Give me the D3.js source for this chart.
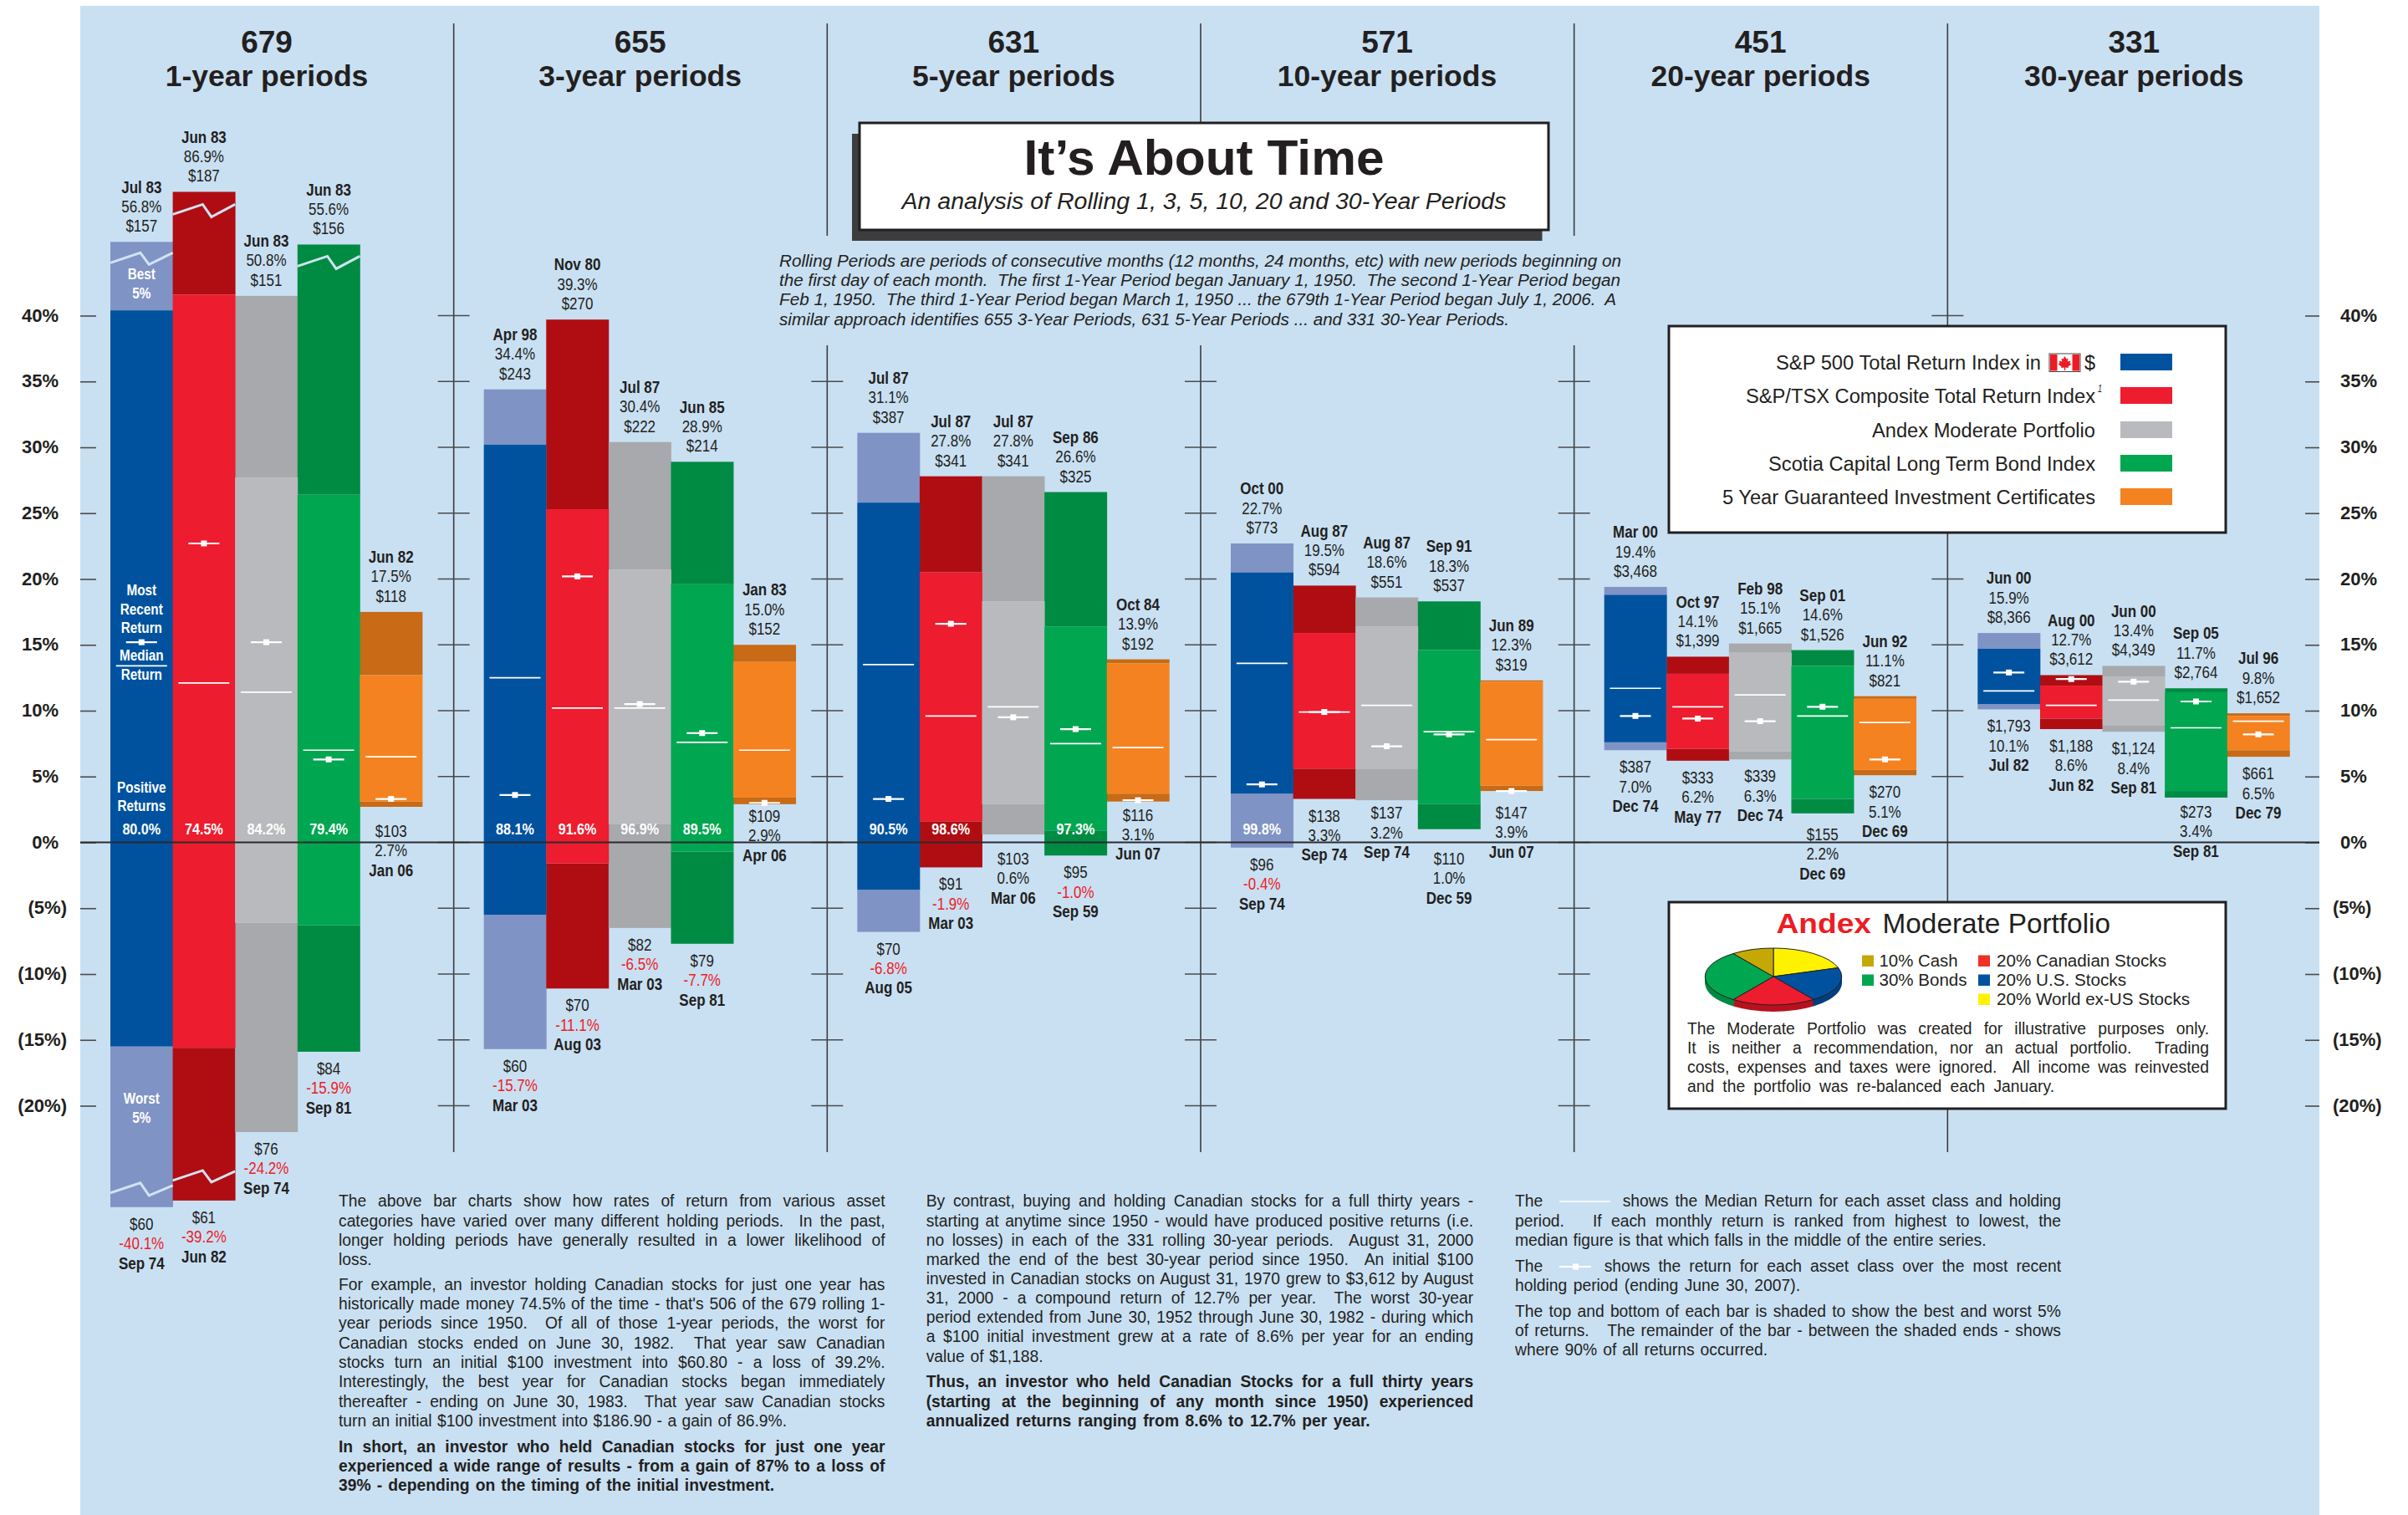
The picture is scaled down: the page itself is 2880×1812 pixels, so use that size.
<!DOCTYPE html>
<html>
<head>
<meta charset="utf-8">
<title>It's About Time</title>
<script src="https://cdn.jsdelivr.net/npm/d3@7"></script>
<style>
  html, body { margin: 0; padding: 0; background: #fff; }
  svg { display: block; }
  text { font-family: "Liberation Sans", Arial, sans-serif; fill: #231f20; white-space: pre; }
</style>
</head>
<body>
<div id="chart"></div>
<script>
const assets = ["S&P 500", "S&P/TSX", "Andex Moderate", "Scotia Bond", "5 Year GIC"];
const periodCounts = ["679", "655", "631", "571", "451", "331"];
const periodNames = ["1-year periods", "3-year periods", "5-year periods", "10-year periods", "20-year periods", "30-year periods"];
const percentTicks = [40, 35, 30, 25, 20, 15, 10, 5, 0, -5, -10, -15, -20];

// one row per holding period, one column per asset
const best = [
  [56.8, 86.9, 50.8, 55.6, 17.5],
  [34.4, 39.3, 30.4, 28.9, 15.0],
  [31.1, 27.8, 27.8, 26.6, 13.9],
  [22.7, 19.5, 18.6, 18.3, 12.3],
  [19.4, 14.1, 15.1, 14.6, 11.1],
  [15.9, 12.7, 13.4, 11.7, 9.8]
];
const upper5 = [
  [40.4, 41.6, 27.7, 26.4, 12.7],
  [30.2, 25.3, 20.7, 19.6, 13.7],
  [25.8, 20.5, 18.3, 16.4, 13.6],
  [20.5, 15.9, 16.4, 14.6, 12.2],
  [18.8, 12.8, 14.4, 13.4, 10.9],
  [14.7, 11.9, 12.6, 11.4, 9.6]
];
const medians = [
  [13.4, 12.1, 11.4, 7.0, 6.5],
  [12.5, 10.2, 10.2, 7.6, 7.0],
  [13.5, 9.6, 10.3, 7.5, 7.2],
  [13.6, 9.9, 10.4, 8.4, 7.8],
  [11.7, 10.3, 11.2, 9.6, 9.1],
  [11.5, 10.4, 10.8, 8.7, 9.2]
];
const recent = [
  [15.2, 22.7, 15.2, 6.3, 3.3],
  [3.6, 20.2, 10.5, 8.3, 3.0],
  [3.3, 16.6, 9.5, 8.6, 3.2],
  [4.4, 9.9, 7.3, 8.2, 3.9],
  [9.6, 9.4, 9.2, 10.3, 6.3],
  [12.9, 12.4, 12.2, 10.7, 8.2]
];
const lower5 = [
  [-15.5, -15.6, -6.1, -6.3, 3.1],
  [-5.5, -1.6, 1.4, -0.7, 3.4],
  [-3.6, 1.6, 2.9, 0.9, 3.7],
  [3.7, 5.6, 5.6, 2.9, 4.3],
  [7.6, 7.1, 6.9, 3.3, 5.5],
  [10.5, 9.4, 8.9, 3.9, 7.0]
];
const worst = [
  [-40.1, -39.2, -24.2, -15.9, 2.7],
  [-15.7, -11.1, -6.5, -7.7, 2.9],
  [-6.8, -1.9, 0.6, -1.0, 3.1],
  [-0.4, 3.3, 3.2, 1.0, 3.9],
  [7.0, 6.2, 6.3, 2.2, 5.1],
  [10.1, 8.6, 8.4, 3.4, 6.5]
];
// the 1-year bars are cut short on the page: height the bar ends are drawn at
const bestDrawn1Y = [45.6, 49.4, 41.5, 45.4, 17.5];
const worstDrawn1Y = [-27.7, -27.2, -22.0, -15.9, 2.7];
// the 3-year TSX bar is drawn a little taller than its label says
const bestDrawn3YTsx = 39.7;

const bestDates = [
  ["Jul 83", "Jun 83", "Jun 83", "Jun 83", "Jun 82"],
  ["Apr 98", "Nov 80", "Jul 87", "Jun 85", "Jan 83"],
  ["Jul 87", "Jul 87", "Jul 87", "Sep 86", "Oct 84"],
  ["Oct 00", "Aug 87", "Aug 87", "Sep 91", "Jun 89"],
  ["Mar 00", "Oct 97", "Feb 98", "Sep 01", "Jun 92"],
  ["Jun 00", "Aug 00", "Jun 00", "Sep 05", "Jul 96"]
];
const bestDollars = [
  ["$157", "$187", "$151", "$156", "$118"],
  ["$243", "$270", "$222", "$214", "$152"],
  ["$387", "$341", "$341", "$325", "$192"],
  ["$773", "$594", "$551", "$537", "$319"],
  ["$3,468", "$1,399", "$1,665", "$1,526", "$821"],
  ["$8,366", "$3,612", "$4,349", "$2,764", "$1,652"]
];
const worstDates = [
  ["Sep 74", "Jun 82", "Sep 74", "Sep 81", "Jan 06"],
  ["Mar 03", "Aug 03", "Mar 03", "Sep 81", "Apr 06"],
  ["Aug 05", "Mar 03", "Mar 06", "Sep 59", "Jun 07"],
  ["Sep 74", "Sep 74", "Sep 74", "Dec 59", "Jun 07"],
  ["Dec 74", "May 77", "Dec 74", "Dec 69", "Dec 69"],
  ["Jul 82", "Jun 82", "Sep 81", "Sep 81", "Dec 79"]
];
const worstDollars = [
  ["$60", "$61", "$76", "$84", "$103"],
  ["$60", "$70", "$82", "$79", "$109"],
  ["$70", "$91", "$103", "$95", "$116"],
  ["$96", "$138", "$137", "$110", "$147"],
  ["$387", "$333", "$339", "$155", "$270"],
  ["$1,793", "$1,188", "$1,124", "$273", "$661"]
];
const positiveShare = [
  ["80.0%", "74.5%", "84.2%", "79.4%", ""],
  ["88.1%", "91.6%", "96.9%", "89.5%", ""],
  ["90.5%", "98.6%", "", "97.3%", ""],
  ["99.8%", "", "", "", ""],
  ["", "", "", "", ""],
  ["", "", "", "", ""]
];

const legendLabels = [
  "S&P 500 Total Return Index in",
  "S&P/TSX Composite Total Return Index",
  "Andex Moderate Portfolio",
  "Scotia Capital Long Term Bond Index",
  "5 Year Guaranteed Investment Certificates"
];
const mixLabels = ["20% World ex-US Stocks", "20% U.S. Stocks", "20% Canadian Stocks", "30% Bonds", "10% Cash"];
const mixWeights = [20, 20, 20, 30, 10];

const introLines = [
  "Rolling Periods are periods of consecutive months (12 months, 24 months, etc) with new periods beginning on",
  "the first day of each month.  The first 1-Year Period began January 1, 1950.  The second 1-Year Period began",
  "Feb 1, 1950.  The third 1-Year Period began March 1, 1950 ... the 679th 1-Year Period began July 1, 2006.  A",
  "similar approach identifies 655 3-Year Periods, 631 5-Year Periods ... and 331 30-Year Periods."
];
const column1 = [
  "The above bar charts show how rates of return from various asset",
  "categories have varied over many different holding periods.  In the past,",
  "longer holding periods have generally resulted in a lower likelihood of",
  "loss.",
  "For example, an investor holding Canadian stocks for just one year has",
  "historically made money 74.5% of the time - that's 506 of the 679 rolling 1-",
  "year periods since 1950.  Of all of those 1-year periods, the worst for",
  "Canadian stocks ended on June 30, 1982.  That year saw Canadian",
  "stocks turn an initial $100 investment into $60.80 - a loss of 39.2%.",
  "Interestingly, the best year for Canadian stocks began immediately",
  "thereafter - ending on June 30, 1983.  That year saw Canadian stocks",
  "turn an initial $100 investment into $186.90 - a gain of 86.9%.",
  "In short, an investor who held Canadian stocks for just one year",
  "experienced a wide range of results - from a gain of 87% to a loss of",
  "39% - depending on the timing of the initial investment."
];
const column2 = [
  "By contrast, buying and holding Canadian stocks for a full thirty years -",
  "starting at anytime since 1950 - would have produced positive returns (i.e.",
  "no losses) in each of the 331 rolling 30-year periods.  August 31, 2000",
  "marked the end of the best 30-year period since 1950.  An initial $100",
  "invested in Canadian stocks on August 31, 1970 grew to $3,612 by August",
  "31, 2000 - a compound return of 12.7% per year.  The worst 30-year",
  "period extended from June 30, 1952 through June 30, 1982 - during which",
  "a $100 initial investment grew at a rate of 8.6% per year for an ending",
  "value of $1,188.",
  "Thus, an investor who held Canadian Stocks for a full thirty years",
  "(starting at the beginning of any month since 1950) experienced",
  "annualized returns ranging from 8.6% to 12.7% per year."
];
const column3 = [
  "period.   If each monthly return is ranked from highest to lowest, the",
  "median figure is that which falls in the middle of the entire series.",
  "holding period (ending June 30, 2007).",
  "The top and bottom of each bar is shaded to show the best and worst 5%",
  "of returns.   The remainder of the bar - between the shaded ends - shows",
  "where 90% of all returns occurred."
];
const moderateNote = [
  "The Moderate Portfolio was created for illustrative purposes only.",
  "It is neither a recommendation, nor an actual portfolio.  Trading",
  "costs, expenses and taxes were ignored.  All income was reinvested",
  "and the portfolio was re-balanced each January."
];

const mainColor = ["#00529f", "#ed1c2e", "#b9babd", "#00a650", "#f58220"];
const shadeColor = ["#8093c5", "#b00d13", "#a7a9ac", "#008b43", "#c86a16"];
const ink = "#231f20";

const width = 2880, height = 1812;
const panelLeft = 96, panelRight = 2774;
const bodySize = 19.3;

const svg = d3.select("#chart").append("svg").attr("width", width).attr("height", height);
svg.append("rect").attr("x", panelLeft).attr("y", 7)
  .attr("width", panelRight - panelLeft).attr("height", height - 7).attr("fill", "#c9e0f3");

const y = d3.scaleLinear().domain([0, 40]).range([1007.5, 377.5]);
const xPeriod = d3.scaleBand().domain(d3.range(6)).range([panelLeft, 2776]);
const xAsset = d3.scaleBand().domain(d3.range(5)).range([0, 373]);
const barLeft = (p) => xPeriod(p) + 36;
const barX = (d) => barLeft(d.p) + xAsset(d.a);
const barMid = (d) => barX(d) + xAsset.bandwidth() / 2;

// squeeze or stretch the spaces between words so a line fills its measure
function justify(sel, w) {
  sel.each(function () {
    const words = this.textContent.split(" ").length - 1;
    const natural = this.getComputedTextLength();
    if (words > 0) d3.select(this).attr("word-spacing", (w - natural) / words);
  });
  return sel;
}
function fit(sel, w) {
  return sel.attr("textLength", w).attr("lengthAdjust", "spacingAndGlyphs");
}
// the small labels on the bars are set in a condensed cut
function condense(sel, ratio = 0.85) {
  return fit(sel, sel.node().getComputedTextLength() * ratio);
}
function addText(parent, str, px, py, size, opts = {}) {
  return parent.append("text")
    .attr("x", px).attr("y", py).attr("font-size", size)
    .attr("font-weight", opts.bold ? "bold" : null)
    .attr("font-style", opts.italic ? "italic" : null)
    .attr("text-anchor", opts.anchor || "start")
    .style("fill", opts.fill || ink)
    .text(str);
}

// dividers and their ticks, some of them are broken by the boxes on top
const dividers = [
  { p: 1, spans: [[28, 1378]], ticks: percentTicks },
  { p: 2, spans: [[28, 282], [413, 1378]], ticks: percentTicks.slice(1) },
  { p: 3, spans: [[28, 146], [413, 1378]], ticks: percentTicks.slice(1) },
  { p: 4, spans: [[28, 282], [413, 1378]], ticks: percentTicks.slice(1) },
  { p: 5, spans: [[28, 390], [637, 1079], [1326, 1378]], ticks: [40, 20, 15, 10, 5] }
];
const gridG = svg.append("g");
dividers.forEach((div) => {
  const x0 = xPeriod(div.p);
  gridG.selectAll(null).data(div.spans).join("line")
    .attr("x1", x0).attr("x2", x0)
    .attr("y1", (d) => d[0]).attr("y2", (d) => d[1])
    .attr("stroke", "#3c3c3e").attr("stroke-width", 1.6);
  gridG.selectAll(null).data(div.ticks).join("line")
    .attr("x1", x0 - 19).attr("x2", x0 + 19)
    .attr("y1", (d) => y(d)).attr("y2", (d) => y(d))
    .attr("stroke", "#4a4a4c").attr("stroke-width", 1.6);
});

// axes on both sides
const pctFormat = (d) => (d < 0 ? `(${-d}%)` : `${d}%`);
const leftAxis = svg.append("g").attr("transform", `translate(${panelLeft},0)`)
  .call(d3.axisLeft(y).tickValues(percentTicks).tickSizeInner(-19).tickSizeOuter(0).tickPadding(26).tickFormat(pctFormat));
const rightAxis = svg.append("g").attr("transform", `translate(${panelRight},0)`)
  .call(d3.axisRight(y).tickValues(percentTicks).tickSizeInner(-17).tickSizeOuter(0).tickPadding(25).tickFormat(pctFormat));
[leftAxis, rightAxis].forEach((axis) => {
  axis.select(".domain").remove();
  axis.selectAll("line").attr("stroke", "#4a4a4c").attr("stroke-width", 1.6);
  axis.selectAll("text").attr("font-size", 22).attr("font-weight", "bold").attr("dy", "0.3em").style("fill", ink);
});
leftAxis.selectAll("text").attr("x", (d) => (d < 0 ? -16 : -26));
rightAxis.selectAll("text").attr("x", (d) => (d < 0 ? 16 : 25));

// headings
periodCounts.forEach((count, p) => {
  const cx = barLeft(p) + 187;
  addText(svg, count, cx, 63, 37, { bold: true, anchor: "middle" });
  addText(svg, periodNames[p], cx, 103, 35.5, { bold: true, anchor: "middle" });
});

const rows = d3.range(6).flatMap((p) => d3.range(5).map((a) => ({
  p, a,
  best: best[p][a],
  upper: upper5[p][a],
  median: medians[p][a],
  recent: recent[p][a],
  lower: lower5[p][a],
  worst: worst[p][a],
  topDrawn: p === 0 ? bestDrawn1Y[a] : (p === 1 && a === 1 ? bestDrawn3YTsx : best[p][a]),
  bottomDrawn: p === 0 ? worstDrawn1Y[a] : worst[p][a]
})));

const barsG = svg.append("g");
const segment = (cls, from, to, color) => barsG.selectAll(`.${cls}`).data(rows).join("rect")
  .attr("class", cls)
  .attr("x", barX)
  .attr("width", xAsset.bandwidth() + 0.4)
  .attr("y", (d) => y(from(d)))
  .attr("height", (d) => y(to(d)) - y(from(d)))
  .attr("fill", color);
segment("bar-top", (d) => d.topDrawn, (d) => d.upper, (d) => shadeColor[d.a]);
segment("bar-bottom", (d) => d.lower, (d) => d.bottomDrawn, (d) => shadeColor[d.a]);
segment("bar-mid", (d) => d.upper, (d) => d.lower, (d) => mainColor[d.a]);

// zigzag marks on the bars that are cut short
const zigX = [0, 0.48, 0.62, 1];
const zigLine = d3.line();
const cutMarks = [
  { a: 0, edge: "top", drop: [25, 13, 27, 13] },
  { a: 1, edge: "top", drop: [27, 15, 30, 15] },
  { a: 3, edge: "top", drop: [26, 14, 29, 14] },
  { a: 0, edge: "bottom", drop: [-17, -29, -14, -26] },
  { a: 1, edge: "bottom", drop: [-24, -36, -22, -35] }
];
barsG.selectAll(".cut").data(cutMarks).join("path")
  .attr("class", "cut")
  .attr("fill", "none")
  .attr("stroke", "#cfe3f2")
  .attr("stroke-width", 3)
  .attr("d", (m) => {
    const row = rows.find((r) => r.p === 0 && r.a === m.a);
    const edge = y(m.edge === "top" ? row.topDrawn : row.bottomDrawn);
    return zigLine(zigX.map((f, i) => [barX(row) + f * xAsset.bandwidth(), edge + m.drop[i]]));
  });

// zero line runs over the bars
svg.append("line").attr("x1", panelLeft).attr("x2", panelRight)
  .attr("y1", y(0)).attr("y2", y(0)).attr("stroke", "#2b2b2d").attr("stroke-width", 2);

// median and most recent markers
const markG = svg.append("g");
markG.selectAll(".median").data(rows).join("line")
  .attr("class", "median")
  .attr("x1", (d) => barMid(d) - 30.5).attr("x2", (d) => barMid(d) + 30.5)
  .attr("y1", (d) => y(d.median)).attr("y2", (d) => y(d.median))
  .attr("stroke", "#fff").attr("stroke-width", 1.7);
markG.selectAll(".recent").data(rows).join("line")
  .attr("class", "recent")
  .attr("x1", (d) => barMid(d) - 18.5).attr("x2", (d) => barMid(d) + 18.5)
  .attr("y1", (d) => y(d.recent)).attr("y2", (d) => y(d.recent))
  .attr("stroke", "#fff").attr("stroke-width", 2.2);
markG.selectAll(".recent-dot").data(rows).join("rect")
  .attr("class", "recent-dot")
  .attr("x", (d) => barMid(d) - 3.5).attr("y", (d) => y(d.recent) - 3.5)
  .attr("width", 7).attr("height", 7)
  .attr("fill", "#fff");

// value labels above and below each bar
const labelSize = 20, labelStep = 23.4;
// lower labels mostly sit 27px under the bar, these were moved by hand around the zero line
const lowerLabelGap = { "0-4": 36, "1-4": 21, "2-2": 36, "2-4": 23, "3-2": 22, "3-3": 42, "3-4": 33, "4-3": 32, "5-3": 24 };
const labelsG = svg.append("g");
rows.forEach((d) => {
  const cx = barMid(d);
  const topBase = y(d.topDrawn) - 12;
  condense(addText(labelsG, bestDates[d.p][d.a], cx, topBase - 2 * labelStep, labelSize, { bold: true, anchor: "middle" }));
  condense(addText(labelsG, `${d.best.toFixed(1)}%`, cx, topBase - labelStep, labelSize, { anchor: "middle" }));
  condense(addText(labelsG, bestDollars[d.p][d.a], cx, topBase, labelSize, { anchor: "middle" }));

  const lowBase = y(d.bottomDrawn) + (lowerLabelGap[`${d.p}-${d.a}`] || 27);
  condense(addText(labelsG, worstDollars[d.p][d.a], cx, lowBase, labelSize, { anchor: "middle" }));
  condense(addText(labelsG, `${d.worst.toFixed(1)}%`, cx, lowBase + labelStep, labelSize, {
    anchor: "middle", fill: d.worst < 0 ? "#ed1c24" : ink
  }));
  condense(addText(labelsG, worstDates[d.p][d.a], cx, lowBase + 2 * labelStep, labelSize, { bold: true, anchor: "middle" }));

  if (positiveShare[d.p][d.a]) {
    condense(addText(labelsG, positiveShare[d.p][d.a], cx, 998, 19, { bold: true, anchor: "middle", fill: "#fff" }));
  }
});

// notes written on the first blue bar
const firstMid = barMid(rows[0]);
[["Best", 334], ["5%", 357], ["Most", 712], ["Recent", 735], ["Return", 757], ["Median", 790], ["Return", 813],
  ["Positive", 948], ["Returns", 970], ["Worst", 1320], ["5%", 1343]].forEach(([str, py]) => {
  condense(addText(svg, str, firstMid, py, 18, { bold: true, anchor: "middle", fill: "#fff" }));
});

// title box
const titleG = svg.append("g");
titleG.append("rect").attr("x", 1019).attr("y", 160).attr("width", 825.5).attr("height", 128).attr("fill", "#3d3d3f");
titleG.append("rect").attr("x", 1028).attr("y", 147).attr("width", 824).attr("height", 128)
  .attr("fill", "#fff").attr("stroke", ink).attr("stroke-width", 3);
fit(addText(titleG, "It’s About Time", 1440, 209, 60, { bold: true, anchor: "middle" }), 431);
fit(addText(titleG, "An analysis of Rolling 1, 3, 5, 10, 20 and 30-Year Periods", 1440, 250, 27, { italic: true, anchor: "middle" }), 723);

const introWidths = [1007, 1006, 1001, 873];
introLines.forEach((line, i) => {
  fit(addText(svg, line, 932, 319 + i * 23.2, 19.5, { italic: true }), introWidths[i]);
});

// series legend
const legendG = svg.append("g");
legendG.append("rect").attr("x", 1996).attr("y", 390).attr("width", 666).attr("height", 247)
  .attr("fill", "#fff").attr("stroke", ink).attr("stroke-width", 3);
const legendRight = 2506;
const legendBase = [442, 482, 523, 563, 603];
const legendWidths = [317, 418, 267, 391, 446];
legendLabels.forEach((label, i) => {
  const right = i === 0 ? 2441 : legendRight;
  fit(addText(legendG, label, right, legendBase[i], 23.5, { anchor: "end" }), legendWidths[i]);
});
legendG.selectAll(".swatch").data(mainColor).join("rect")
  .attr("class", "swatch")
  .attr("x", 2536).attr("y", (d, i) => legendBase[i] - 19)
  .attr("width", 62).attr("height", 20)
  .attr("fill", (d) => d);
addText(legendG, "$", 2506, 442, 23.5, { anchor: "end" });
fit(addText(legendG, "1", 2509, 469, 12, { italic: true }), 5);

// little Canadian flag in the first legend row
const flag = legendG.append("g").attr("transform", "translate(2451,423)");
flag.append("rect").attr("width", 37).attr("height", 21.5).attr("fill", "#fff").attr("stroke", "#444").attr("stroke-width", 1);
flag.append("rect").attr("x", 1).attr("y", 1).attr("width", 8.5).attr("height", 19.5).attr("fill", "#ed1c24");
flag.append("rect").attr("x", 27.5).attr("y", 1).attr("width", 8.5).attr("height", 19.5).attr("fill", "#ed1c24");
flag.append("path").attr("fill", "#ed1c24").attr("transform", "translate(18.5,11)")
  .attr("d", "M0,-8 L2,-4.5 L4,-5.5 L3.2,-1.5 L7,-2.5 L6,0.5 L8,1.5 L4,4.5 L4.5,6 L0.7,5.5 L0.7,9 L-0.7,9 L-0.7,5.5 L-4.5,6 L-4,4.5 L-8,1.5 L-6,0.5 L-7,-2.5 L-3.2,-1.5 L-4,-5.5 L-2,-4.5 Z");

// Andex Moderate box
const andexG = svg.append("g");
andexG.append("rect").attr("x", 1996).attr("y", 1079).attr("width", 666).attr("height", 247)
  .attr("fill", "#fff").attr("stroke", ink).attr("stroke-width", 3);
fit(addText(andexG, "Andex", 2124.5, 1116, 33, { bold: true, fill: "#ed1c24" }), 113.5);
fit(addText(andexG, "Moderate Portfolio", 2251.5, 1116, 33), 272.5);

const mixFace = ["#fff200", "#00529f", "#ed1c2e", "#00a650", "#c4a906"];
const mixSide = ["#d9cc00", "#003f7d", "#b7121f", "#008b43", "#a28c05"];
const pieRx = 81.7, pieRy = 34, pieDepth = 8;
const slices = d3.pie().sort(null)(mixWeights);
const arc = d3.arc().innerRadius(0).outerRadius(pieRx);
const pieG = andexG.append("g").attr("transform", "translate(2121,1168)");
d3.range(pieDepth, 0, -1).forEach((dy) => {
  pieG.append("g").attr("transform", `translate(0,${dy}) scale(1,${pieRy / pieRx})`)
    .selectAll("path").data(slices).join("path")
    .attr("d", arc).attr("fill", (d, i) => mixSide[i]);
});
pieG.append("g").attr("transform", `scale(1,${pieRy / pieRx})`)
  .selectAll("path").data(slices).join("path")
  .attr("d", arc).attr("fill", (d, i) => mixFace[i])
  .attr("stroke", ink).attr("stroke-width", 1).attr("vector-effect", "non-scaling-stroke");

const mixSlots = [[2366, 1202], [2366, 1179], [2366, 1156], [2227, 1179], [2227, 1156]];
const mixWidths = [231, 155, 203, 105, 94];
const mixSwatch = ["#fff200", "#00529f", "#ee3124", "#00a650", "#c4a906"];
mixLabels.forEach((label, i) => {
  const [sx, base] = mixSlots[i];
  andexG.append("rect").attr("x", sx).attr("y", base - 13.5).attr("width", 14).attr("height", 13.5).attr("fill", mixSwatch[i]);
  fit(addText(andexG, label, sx + (sx === 2366 ? 22 : 20.5), base, 20.5), mixWidths[i]);
});
moderateNote.forEach((line, i) => {
  const t = addText(andexG, line, 2018, 1236.7 + i * 23.1, bodySize);
  justify(t, i < 3 ? 624 : 439);
});

// three columns of commentary along the bottom
function writeColumn(lines, x0, w, bases, boldFrom, lastLines) {
  lines.forEach((line, i) => {
    const t = addText(svg, line, x0, bases[i], bodySize, { bold: i >= boldFrom });
    justify(t, lastLines[i] || w);
  });
}
writeColumn(column1, 405, 653.5,
  [1443, 1466.7, 1490, 1512.7, 1543, 1566, 1589, 1612.7, 1636, 1659, 1682.7, 1706, 1736.7, 1760, 1783],
  12, { 3: 42, 11: 536, 14: 521 });
writeColumn(column2, 1107.7, 654.5,
  [1443, 1466.7, 1490, 1512.7, 1536, 1559, 1582, 1605, 1628.7, 1659, 1682.7, 1706],
  9, { 8: 140, 11: 531 });

addText(svg, "The", 1812, 1443.3, bodySize);
addText(svg, "The", 1812, 1520.7, bodySize);
justify(addText(svg, "shows the Median Return for each asset class and holding", 1940.7, 1443.3, bodySize), 524.3);
justify(addText(svg, "shows the return for each asset class over the most recent", 1918.7, 1520.7, bodySize), 546.3);
svg.append("line").attr("x1", 1865).attr("x2", 1926).attr("y1", 1437).attr("y2", 1437)
  .attr("stroke", "#fff").attr("stroke-width", 1.7);
svg.append("line").attr("x1", 1865).attr("x2", 1903).attr("y1", 1515).attr("y2", 1515)
  .attr("stroke", "#fff").attr("stroke-width", 2.2);
svg.append("rect").attr("x", 1881).attr("y", 1511.5).attr("width", 7).attr("height", 7).attr("fill", "#fff");
writeColumn(column3, 1812, 653, [1466.7, 1490, 1544, 1575, 1598, 1620.7], 99, { 1: 563.5, 2: 341, 5: 302 });
</script>
</body>
</html>
